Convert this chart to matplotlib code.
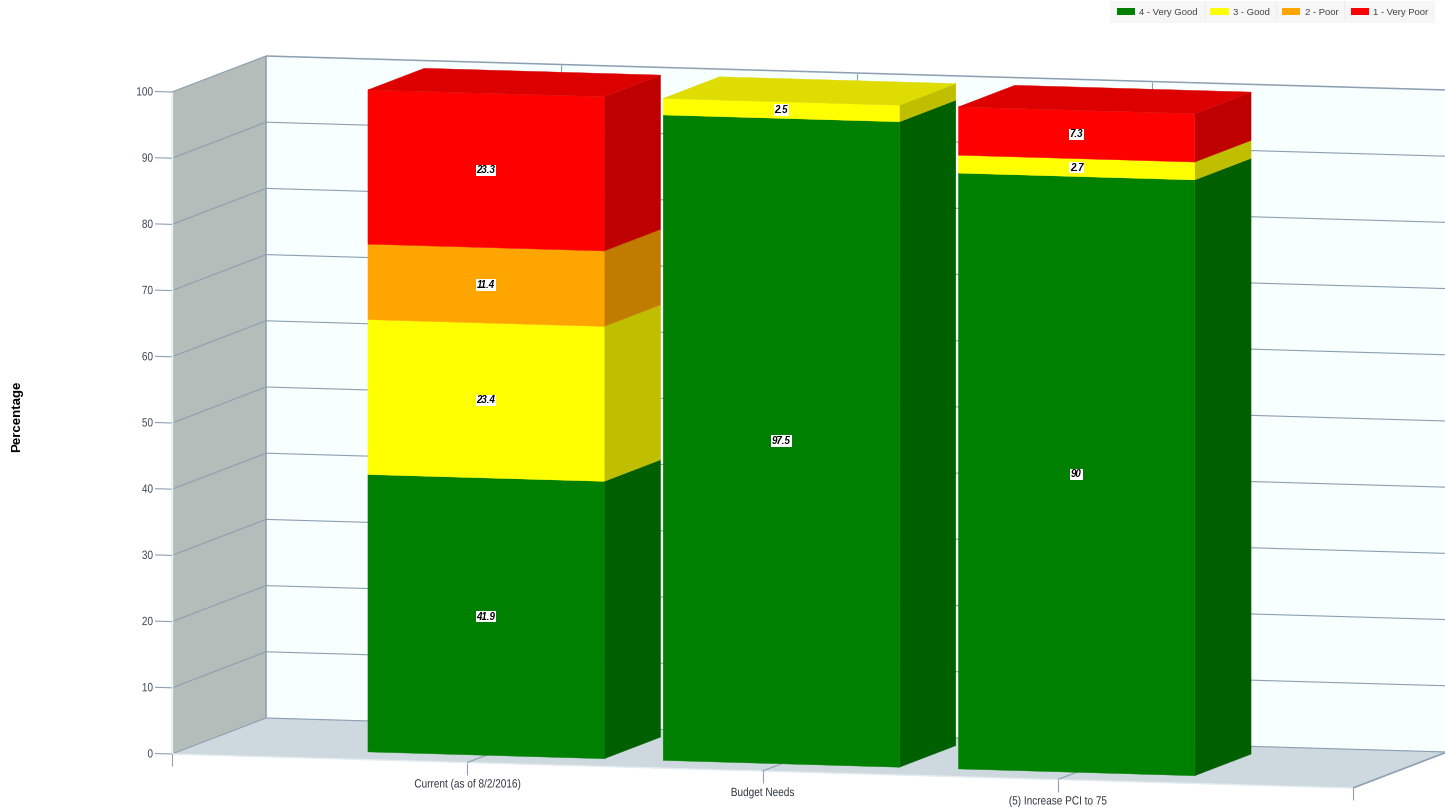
import matplotlib
matplotlib.use("Agg")
import matplotlib.pyplot as plt
from matplotlib.patches import Polygon, Patch
from matplotlib.patheffects import AbstractPathEffect
from matplotlib.transforms import Affine2D

### Start : Data ---------------------------------------------------------------
categories = ["Current (as of 8/2/2016)", "Budget Needs", "(5) Increase PCI to 75"]
very_good = [41.9, 97.5, 90]
good = [23.4, 2.5, 2.7]
poor = [11.4, 0, 0]
very_poor = [23.3, 0, 7.3]
y_ticks = list(range(0, 101, 10))
### End : Data -----------------------------------------------------------------

# name, front colour, side colour, top colour
series = [
    ("4 - Very Good", very_good, "#008000", "#006000", "#00A000"),
    ("3 - Good", good, "#FFFF00", "#BFBF00", "#DEDC00"),
    ("2 - Poor", poor, "#FFA500", "#BF7C00", "#DD9000"),
    ("1 - Very Poor", very_poor, "#FF0000", "#BF0000", "#DD0000"),
]

GRID = "#8E9FB2"
FONT = "Liberation Sans"

# oblique projection of the chart box, in pixels
X0, Y0 = 172, 754
BAND = 295.25
SLOPE = 0.0288
PER_UNIT = 6.62
DX, DY = 94, -36


def px(pos, value, depth=0.0):
    x = X0 + pos * BAND + depth * DX
    y = Y0 + pos * BAND * SLOPE - value * PER_UNIT + depth * DY
    return x, y


class Squeeze(AbstractPathEffect):
    # narrows a text horizontally around its anchor, no condensed Arial here
    def __init__(self, anchor_x, factor=0.84):
        super().__init__()
        self.anchor_x = anchor_x
        self.factor = factor

    def draw_path(self, renderer, gc, tpath, affine, rgbFace=None):
        squeeze = Affine2D().translate(-self.anchor_x, 0).scale(self.factor, 1).translate(self.anchor_x, 0)
        renderer.draw_path(gc, tpath, affine + squeeze, rgbFace)


def face(ax, pts, color, z):
    ax.add_patch(Polygon(pts, closed=True, facecolor=color, edgecolor=color, lw=0.3, zorder=z))


def seg(ax, a, b, color=GRID, lw=0.8, z=2):
    ax.plot([a[0], b[0]], [a[1], b[1]], color=color, lw=lw, zorder=z, solid_capstyle="butt")


fig = plt.figure(figsize=(14.45, 8.11), dpi=100)
ax = fig.add_axes([0, 0, 1, 1])
ax.set_xlim(0, 1445)
ax.set_ylim(811, 0)
ax.axis("off")

n_bands = len(categories) + 1

### Start : Walls and floor ----------------------------------------------------
face(ax, [px(0, 0, 1), px(n_bands, 0, 1), px(n_bands, 100, 1), px(0, 100, 1)], "#F7FFFF", 1)
face(ax, [px(0, 0), px(0, 0, 1), px(0, 100, 1), px(0, 100)], "#B5BDBB", 1)
face(ax, [px(0, 0), px(n_bands, 0), px(n_bands, 0, 1), px(0, 0, 1)], "#CDD9DE", 1)

for v in y_ticks:
    seg(ax, px(0, v), px(0, v, 1))
    seg(ax, px(0, v, 1), px(n_bands, v, 1), lw=1.1 if v == 100 else 0.8)
    tx, ty = px(0, v)
    seg(ax, (tx - 17, ty - 0.5), (tx, ty))
    ax.text(tx - 19, ty + 0.5, str(v), ha="right", va="center", fontsize=8.6, family=FONT,
            color="#3A4652", path_effects=[Squeeze(tx - 19)])

seg(ax, px(0, 0, 1), px(0, 100, 1), lw=1.1)
seg(ax, px(0, 0), px(0, 100), color="#E4F2F4", lw=1.0)
seg(ax, px(n_bands, 0), px(n_bands, 0, 1), lw=1.2)
seg(ax, px(0, 0), px(n_bands, 0), color="#E4ECEF", lw=1.0)

for p in range(n_bands + 1):
    bx, by = px(p, 0)
    seg(ax, (bx, by), (bx, by + 12))
    if 0 < p < n_bands:
        seg(ax, px(p, 0), px(p, 0, 1))
        seg(ax, px(p, 0, 1), px(p, 100, 1))
### End : Walls and floor ------------------------------------------------------

### Start : Stacked bars -------------------------------------------------------
half = 0.4
front, back = 0.2, 0.8
for i, name in enumerate(categories):
    pos = i + 1
    base = 0
    z = 3 + i
    top_color = None
    for label, vals, c_front, c_side, c_top in series:
        v = vals[i]
        if v == 0:
            continue
        top = base + v
        l, r = pos - half, pos + half
        face(ax, [px(r, base, front), px(r, base, back), px(r, top, back), px(r, top, front)], c_side, z)
        face(ax, [px(l, base, front), px(r, base, front), px(r, top, front), px(l, top, front)], c_front, z)
        cx, cy = px(pos, base + v / 2, front)
        ax.text(cx, cy, str(v), ha="center", va="center", fontsize=7.0, fontweight="bold",
                fontstyle="italic", family=FONT, color="black", zorder=20,
                bbox=dict(facecolor="white", edgecolor="none", pad=0.6))
        base = top
        top_color = c_top
    l, r = pos - half, pos + half
    face(ax, [px(l, base, front), px(r, base, front), px(r, base, back), px(l, base, back)], top_color, z)
    tx, ty = px(pos, 0)
    ax.text(tx, ty + 22, name, ha="center", va="center", fontsize=8.6, family=FONT,
            color="#2E3640", zorder=20, path_effects=[Squeeze(tx)])
### End : Stacked bars ---------------------------------------------------------

ax.text(17.5, 416.5, "Percentage", rotation=90, ha="center", va="center", fontsize=9.5,
        fontweight="bold", family=FONT, color="black")

### Start : Legend -------------------------------------------------------------
handles = [Patch(facecolor=s[2], edgecolor="none", label=s[0]) for s in series]
leg = ax.legend(handles=handles, ncols=4, loc="upper right", bbox_to_anchor=(1435, 1),
                bbox_transform=ax.transData, borderaxespad=0, frameon=True, fancybox=False,
                facecolor="#F6F6F6", edgecolor="none", framealpha=1,
                prop={"family": FONT, "size": 6.8},
                handlelength=1.95, handleheight=0.75, handletextpad=0.45, columnspacing=1.3,
                borderpad=0.7, labelcolor="#444444")
leg.set_zorder(30)
for sep_x in [1205, 1276, 1344]:
    seg(ax, (sep_x, 1), (sep_x, 20), color="#ECECEC", lw=0.7, z=31)
### End : Legend ---------------------------------------------------------------

fig.savefig("out.png", dpi=100)
